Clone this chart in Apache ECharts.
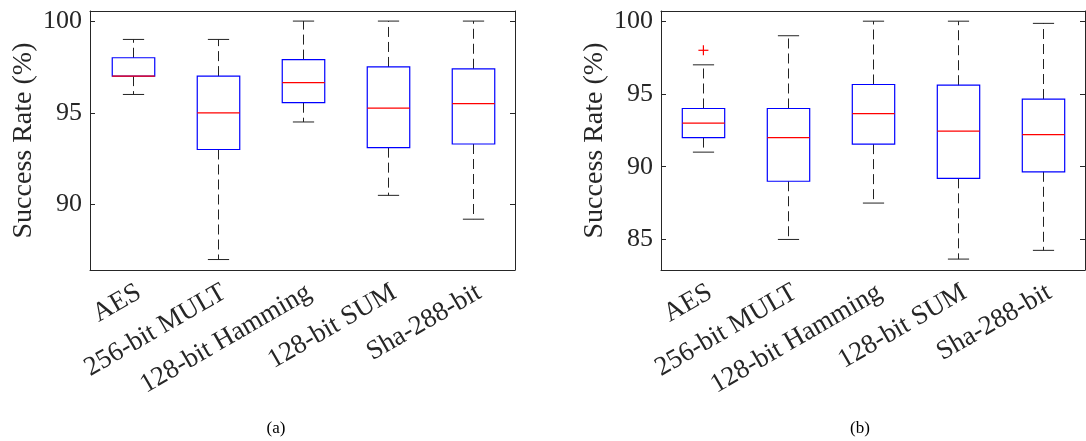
<!DOCTYPE html>
<html>
<head>
<meta charset="utf-8">
<script src="https://cdn.jsdelivr.net/npm/echarts@6/dist/echarts.min.js"></script>
<style>
  html, body { margin: 0; padding: 0; background: #fff; }
  #chart { width: 1086px; height: 441px; }
</style>
</head>
<body>
<div id="chart"></div>
<script>
// categories shared by both panels
const categories = ['AES', '256-bit MULT', '128-bit Hamming', '128-bit SUM', 'Sha-288-bit']

// box stats per category: [low whisker, Q1, median, Q3, high whisker]
const boxesA = [
  [96, 97, 97, 98, 99],
  [87, 93, 95, 97, 99],
  [94.5, 95.55, 96.65, 97.9, 100],
  [90.5, 93.1, 95.25, 97.5, 100],
  [89.2, 93.3, 95.5, 97.4, 100]
]
const boxesB = [
  [91, 92, 93, 94, 97],
  [85, 89, 92, 94, 99],
  [87.5, 91.55, 93.65, 95.65, 100],
  [83.65, 89.2, 92.45, 95.6, 100],
  [84.25, 89.65, 92.2, 94.65, 99.85]
]
// outliers: [category index, value]
const outliersA = []
const outliersB = [[0, 98]]

const ticksA = [90, 95, 100]
const ticksB = [85, 90, 95, 100]

const font = 'Liberation Serif'
const ink = '#262626'

let chart = echarts.init(document.getElementById('chart'))

function renderBox(params, api) {
  const i = api.value(0)
  const low = api.coord([i, api.value(1)])
  const q1 = api.coord([i, api.value(2)])
  const med = api.coord([i, api.value(3)])
  const q3 = api.coord([i, api.value(4)])
  const high = api.coord([i, api.value(5)])
  const band = api.size([1, 0])[0]
  const half = band * 0.25
  const cap = band * 0.125
  const cx = Math.round(low[0]) + 0.5
  const dash = { stroke: '#222', lineWidth: 1, lineDash: [10, 5] }
  const solid = { stroke: '#222', lineWidth: 1 }
  return {
    type: 'group',
    children: [
      { type: 'line', shape: { x1: cx, y1: q3[1], x2: cx, y2: high[1] }, style: dash },
      { type: 'line', shape: { x1: cx, y1: q1[1], x2: cx, y2: low[1] }, style: dash },
      { type: 'line', shape: { x1: cx - cap, y1: high[1], x2: cx + cap, y2: high[1] }, style: solid },
      { type: 'line', shape: { x1: cx - cap, y1: low[1], x2: cx + cap, y2: low[1] }, style: solid },
      {
        type: 'rect',
        shape: { x: cx - half, y: q3[1], width: half * 2, height: q1[1] - q3[1] },
        style: { stroke: '#0000ff', fill: 'none', lineWidth: 1.2 }
      },
      { type: 'line', shape: { x1: cx - half, y1: med[1], x2: cx + half, y2: med[1] }, style: { stroke: '#ff0000', lineWidth: 1.2 } }
    ]
  }
}

function renderPlus(params, api) {
  const p = api.coord([api.value(0), api.value(1)])
  const s = 5
  const st = { stroke: '#ff0000', lineWidth: 1.2 }
  return {
    type: 'group',
    children: [
      { type: 'line', shape: { x1: p[0] - s, y1: p[1], x2: p[0] + s, y2: p[1] }, style: st },
      { type: 'line', shape: { x1: p[0], y1: p[1] - s, x2: p[0], y2: p[1] + s }, style: st }
    ]
  }
}

function xAxes(grid) {
  return [
    {
      type: 'category', gridIndex: grid, data: categories, position: 'bottom',
      axisLine: { lineStyle: { color: ink } },
      axisTick: { inside: true, length: 5, alignWithLabel: true, lineStyle: { color: ink } },
      axisLabel: {
        rotate: 30, margin: 9, interval: 0, align: 'right', verticalAlign: 'top',
        color: ink, fontFamily: font, fontSize: 27
      }
    },
    {
      type: 'category', gridIndex: grid, data: categories, position: 'top',
      axisLine: { lineStyle: { color: ink } },
      axisTick: { inside: true, length: 5, alignWithLabel: true, lineStyle: { color: ink } },
      axisLabel: { show: false }
    }
  ]
}

function yAxes(grid, min, max, ticks) {
  return [
    {
      type: 'value', gridIndex: grid, min: min, max: max, position: 'left',
      name: 'Success Rate (%)', nameLocation: 'middle', nameGap: 52,
      nameTextStyle: { color: ink, fontFamily: font, fontSize: 28 },
      axisLine: { show: true, lineStyle: { color: ink } },
      axisTick: { show: true, inside: true, length: 5, customValues: ticks, lineStyle: { color: ink } },
      axisLabel: { customValues: ticks, margin: 8, color: ink, fontFamily: font, fontSize: 26 },
      splitLine: { show: false }
    },
    {
      type: 'value', gridIndex: grid, min: min, max: max, position: 'right',
      axisLine: { show: true, lineStyle: { color: ink } },
      axisTick: { show: true, inside: true, length: 5, customValues: ticks, lineStyle: { color: ink } },
      axisLabel: { show: false },
      splitLine: { show: false }
    }
  ]
}

function boxRows(boxes) {
  return boxes.map((b, i) => [i].concat(b))
}

chart.setOption({
  animation: false,
  backgroundColor: '#fff',
  title: [
    { text: '(a)', left: 271, top: 415, textAlign: 'center', textStyle: { fontFamily: font, fontSize: 17, fontWeight: 'normal', color: '#000' } },
    { text: '(b)', left: 855, top: 415, textAlign: 'center', textStyle: { fontFamily: font, fontSize: 17, fontWeight: 'normal', color: '#000' } }
  ],
  grid: [
    { left: 90, width: 425, top: 11, height: 259 },
    { left: 661, width: 424, top: 11, height: 259 }
  ],
  xAxis: xAxes(0).concat(xAxes(1)),
  yAxis: yAxes(0, 86.43, 100.55, ticksA).concat(yAxes(1, 82.9, 100.7, ticksB)),
  series: [
    { type: 'custom', xAxisIndex: 0, yAxisIndex: 0, renderItem: renderBox, encode: { x: 0, y: [1, 2, 3, 4, 5] }, data: boxRows(boxesA) },
    { type: 'custom', xAxisIndex: 0, yAxisIndex: 0, renderItem: renderPlus, encode: { x: 0, y: 1 }, data: outliersA },
    { type: 'custom', xAxisIndex: 2, yAxisIndex: 2, renderItem: renderBox, encode: { x: 0, y: [1, 2, 3, 4, 5] }, data: boxRows(boxesB) },
    { type: 'custom', xAxisIndex: 2, yAxisIndex: 2, renderItem: renderPlus, encode: { x: 0, y: 1 }, data: outliersB }
  ]
})
</script>
</body>
</html>
